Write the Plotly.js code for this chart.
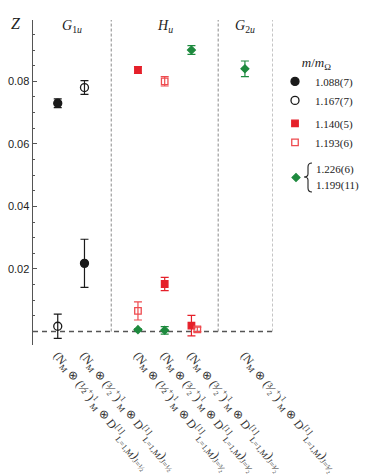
<!DOCTYPE html>
<html>
<head>
<meta charset="utf-8">
<script src="https://cdn.plot.ly/plotly-3.0.1.min.js"></script>
<style>
  body { margin: 0; background: #fff; }
  #graph { width: 374px; height: 476px; }
</style>
</head>
<body>
<div id="graph"></div>
<script>
// slot positions of the six operators along x
const slots = [1, 2, 4, 5, 6, 8];
const tickLabels = [
  '(N<sub>M</sub> ⊗ (½<sup>+</sup>)<sup>1</sup><sub>M</sub> ⊗ D<sup>[1]</sup><sub>L=1,M</sub>)<sub>J=½</sub>',
  '(N<sub>M</sub> ⊗ (³⁄₂<sup>+</sup>)<sup>1</sup><sub>M</sub> ⊗ D<sup>[1]</sup><sub>L=1,M</sub>)<sub>J=½</sub>',
  '(N<sub>M</sub> ⊗ (½<sup>+</sup>)<sup>1</sup><sub>M</sub> ⊗ D<sup>[1]</sup><sub>L=1,M</sub>)<sub>J=³⁄₂</sub>',
  '(N<sub>M</sub> ⊗ (³⁄₂<sup>+</sup>)<sup>1</sup><sub>M</sub> ⊗ D<sup>[1]</sup><sub>L=1,M</sub>)<sub>J=³⁄₂</sub>',
  '(N<sub>M</sub> ⊗ (³⁄₂<sup>+</sup>)<sup>1</sup><sub>M</sub> ⊗ D<sup>[1]</sup><sub>L=1,M</sub>)<sub>J=³⁄₂</sub>',
  '(N<sub>M</sub> ⊗ (³⁄₂<sup>+</sup>)<sup>1</sup><sub>M</sub> ⊗ D<sup>[1]</sup><sub>L=1,M</sub>)<sub>J=⁵⁄₂</sub>'
];

// m/mOmega = 1.088(7), black filled
const blackFullX = [1, 2];
const blackFullZ = [0.0730, 0.0218];
const blackFullErr = [0.0014, 0.0077];

// 1.167(7), black open
const blackOpenX = [1, 2];
const blackOpenZ = [0.0017, 0.0780];
const blackOpenErr = [0.0039, 0.0022];

// 1.140(5), red filled
const redFullX = [4, 5, 6];
const redFullZ = [0.0836, 0.0152, 0.0019];
const redFullErr = [0.0011, 0.0021, 0.0033];

// 1.193(6), red open
const redOpenX = [4, 5, 6.22];
const redOpenZ = [0.0066, 0.0800, 0.0007];
const redOpenErr = [0.0029, 0.0015, 0.0007];

// 1.226(6) / 1.199(11), green
const greenX = [4, 5, 6, 8];
const greenZ = [0.0006, 0.0004, 0.0900, 0.0840];
const greenErr = [0.0003, 0.0012, 0.0014, 0.0025];
const greenNames = ['1.226(6)', '1.199(11)'];

const separators = [3, 7, 9.05];
const xRange = [0.075, 9.05];
const yRange = [-0.0043, 0.0996];

const RED = '#e5202a';
const RED_LIGHT = '#ee4b4f';
const GREEN = '#1e8a3e';

const W = 374, H = 476;
const M = { l: 33, r: 101, t: 20, b: 131 };
// pixel -> paper helpers for the legend decorations
const px = function (x) { return (x - M.l) / (W - M.l - M.r); };
const py = function (y) { return (H - M.b - y) / (H - M.t - M.b); };

function series(x, y, err, name, color, symbol, size, group) {
  return {
    x: x, y: y, name: name, legendgroup: group,
    type: 'scatter', mode: 'markers',
    marker: { color: color, symbol: symbol, size: size, line: { color: color, width: 1.3 } },
    error_y: { type: 'data', array: err, visible: true, color: color, thickness: 1.2, width: 4 }
  };
}

const green = series(greenX, greenZ, greenErr, '\u00a0', GREEN, 'diamond', 6, 'g');
green.legend = 'legend2';

const traces = [
  series(blackFullX, blackFullZ, blackFullErr, '1.088(7)', '#1a1a1a', 'circle', 8, 'b'),
  series(blackOpenX, blackOpenZ, blackOpenErr, '1.167(7)', '#1a1a1a', 'circle-open', 8, 'b'),
  series(redFullX, redFullZ, redFullErr, '1.140(5)', RED, 'square', 6.5, 'r'),
  series(redOpenX, redOpenZ, redOpenErr, '1.193(6)', RED_LIGHT, 'square-open', 6.5, 'r'),
  green
];

const shapes = separators.map(function (s) {
  return { type: 'line', xref: 'x', yref: 'y', x0: s, x1: s, y0: 0, y1: yRange[1],
           line: { color: '#8a8a8a', width: 1, dash: '3px,2px' } };
});
shapes.push({ type: 'line', xref: 'x', yref: 'y', x0: xRange[0], x1: separators[2], y0: 0, y1: 0,
              line: { color: '#555', width: 1.4, dash: '5px,4px' }, layer: 'below' });

// curly brace in front of the two green masses
const bx = 308, by = 177;
const brace = [
  'M', px(bx + 4), py(by - 14), 'Q', px(bx), py(by - 14), px(bx), py(by - 10),
  'L', px(bx), py(by - 3), 'Q', px(bx), py(by), px(bx - 4), py(by),
  'Q', px(bx), py(by), px(bx), py(by + 3),
  'L', px(bx), py(by + 11), 'Q', px(bx), py(by + 15), px(bx + 4), py(by + 15)
].join(' ');
shapes.push({ type: 'path', xref: 'paper', yref: 'paper', path: brace, line: { color: '#222', width: 1.1 } });

const serif = 'Liberation Serif, Times New Roman, serif';

const layout = {
  width: W, height: H,
  margin: M,
  paper_bgcolor: '#fff', plot_bgcolor: '#fff',
  showlegend: true,
  xaxis: {
    range: xRange, tickmode: 'array', tickvals: slots, ticktext: tickLabels,
    tickangle: 52, showgrid: false, zeroline: false, showline: false, ticks: '',
    tickfont: { family: serif, size: 12, color: '#333' }
  },
  yaxis: {
    range: yRange, tickmode: 'array', tickvals: [0.02, 0.04, 0.06, 0.08],
    ticktext: ['0.02', '0.04', '0.06', '0.08'],
    showgrid: false, zeroline: false, showline: true, linecolor: '#555', linewidth: 1.5,
    ticks: 'inside', ticklen: 4, tickcolor: '#555', tickwidth: 1,
    minor: { ticks: 'inside', ticklen: 2, tickcolor: '#555', dtick: 0.005, tick0: 0, showgrid: false },
    tickfont: { family: 'Liberation Sans, Arial, sans-serif', size: 11, color: '#222' }
  },
  legend: {
    xref: 'container', yref: 'container',
    x: 275 / W, y: 1 - 50 / H, xanchor: 'left', yanchor: 'top', traceorder: 'grouped',
    font: { family: serif, size: 11, color: '#222' },
    title: { text: '<i>m</i>/<i>m</i><sub>Ω</sub>', side: 'top center', font: { family: serif, size: 13, color: '#222' } },
    tracegroupgap: 4, bgcolor: 'rgba(0,0,0,0)'
  },
  legend2: {
    xref: 'container', yref: 'container',
    x: 276 / W, y: 1 - 163 / H, xanchor: 'left', yanchor: 'top',
    font: { family: serif, size: 11, color: '#222' }, bgcolor: 'rgba(0,0,0,0)'
  },
  shapes: shapes,
  annotations: [
    { xref: 'paper', yref: 'paper', x: -0.072, y: 0.99, xanchor: 'center', yanchor: 'middle', showarrow: false,
      text: '<i>Z</i>', font: { family: serif, size: 16, color: '#222' } },
    { xref: 'x', yref: 'paper', x: 1.53, y: 0.98, showarrow: false, yanchor: 'middle',
      text: '<i>G</i><sub>1<i>u</i></sub>', font: { family: serif, size: 14, color: '#222' } },
    { xref: 'x', yref: 'paper', x: 5.0, y: 0.98, showarrow: false, yanchor: 'middle',
      text: '<i>H</i><sub><i>u</i></sub>', font: { family: serif, size: 14, color: '#222' } },
    { xref: 'x', yref: 'paper', x: 8.0, y: 0.98, showarrow: false, yanchor: 'middle',
      text: '<i>G</i><sub>2<i>u</i></sub>', font: { family: serif, size: 14, color: '#222' } },
    { xref: 'paper', yref: 'paper', x: px(314), y: py(169), showarrow: false, xanchor: 'left', yanchor: 'middle',
      text: greenNames[0], font: { family: serif, size: 11, color: '#222' } },
    { xref: 'paper', yref: 'paper', x: px(314), y: py(185), showarrow: false, xanchor: 'left', yanchor: 'middle',
      text: greenNames[1], font: { family: serif, size: 11, color: '#222' } }
  ]
};

Plotly.newPlot('graph', traces, layout, { staticPlot: true });
</script>
</body>
</html>
